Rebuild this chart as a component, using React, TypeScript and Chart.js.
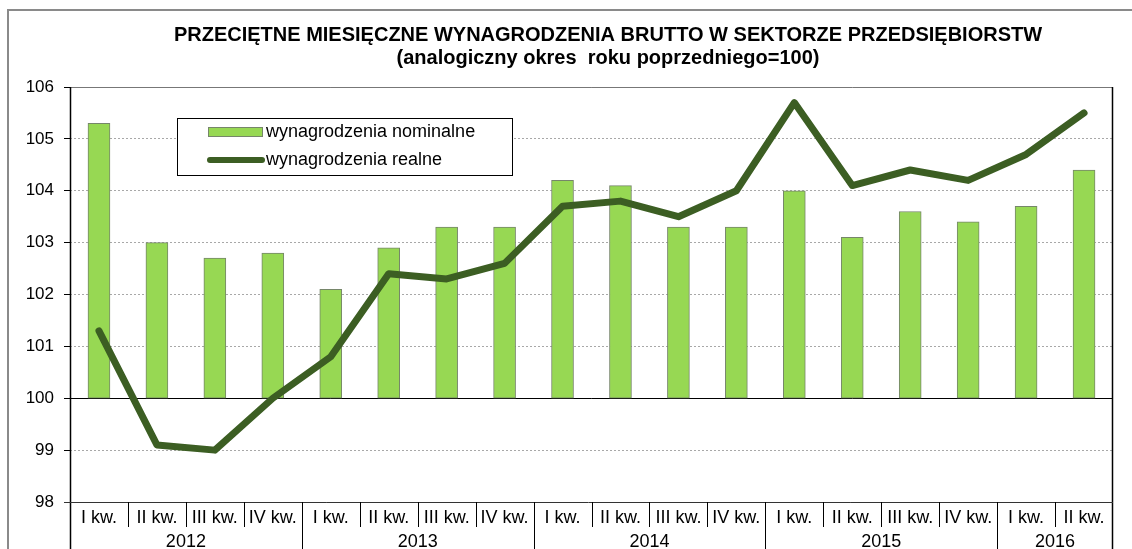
import React, { useEffect, useRef } from "react";
import { Chart, registerables } from "chart.js";

Chart.register(...registerables);

const quarters = ["I kw.", "II kw.", "III kw.", "IV kw.", "I kw.", "II kw.", "III kw.", "IV kw.", "I kw.", "II kw.", "III kw.", "IV kw.", "I kw.", "II kw.", "III kw.", "IV kw.", "I kw.", "II kw."];
const years = ["2012", "2013", "2014", "2015", "2016"];
const quartersPerYear = [4, 4, 4, 4, 2];
const nominal = [105.3, 103.0, 102.7, 102.8, 102.1, 102.9, 103.3, 103.3, 104.2, 104.1, 103.3, 103.3, 104.0, 103.1, 103.6, 103.4, 103.7, 104.4];
const real = [101.3, 99.1, 99.0, 100.0, 100.8, 102.4, 102.3, 102.6, 103.7, 103.8, 103.5, 104.0, 105.7, 104.1, 104.4, 104.2, 104.7, 105.5];
const baseValue = 100;
const titleLines = ["PRZECIĘTNE MIESIĘCZNE WYNAGRODZENIA BRUTTO W SEKTORZE PRZEDSIĘBIORSTW", "(analogiczny okres  roku poprzedniego=100)"];
const seriesNames = ["wynagrodzenia nominalne", "wynagrodzenia realne"];

const FONT = "'Liberation Sans', Arial, sans-serif";
const BAR_FILL = "#97d853";
const BAR_BORDER = "#76866a";
const LINE_COLOR = "#3c5e23";

const decorPlugin = {
  id: "decor",
  beforeDatasetsDraw(chart: any) {
    const { ctx, chartArea, scales } = chart;
    const y = scales.y;
    ctx.save();
    const y100 = Math.round(y.getPixelForValue(baseValue)) + 0.5;
    ctx.strokeStyle = "#000";
    ctx.lineWidth = 1;
    ctx.beginPath();
    ctx.moveTo(chartArea.left, y100);
    ctx.lineTo(chartArea.right, y100);
    ctx.stroke();
    ctx.restore();
  },
  afterDraw(chart: any) {
    const { ctx, chartArea, scales } = chart;
    const x = scales.x;
    const H = chart.height;
    const W = chart.width;
    const L = chartArea.left;
    const R = chartArea.right;
    const T = chartArea.top;
    const B = chartArea.bottom;
    ctx.save();

    // outer frame
    ctx.strokeStyle = "#8a8a8a";
    ctx.lineWidth = 2;
    ctx.beginPath();
    ctx.moveTo(8, H);
    ctx.lineTo(8, 10);
    ctx.lineTo(W, 10);
    ctx.stroke();

    // plot frame
    ctx.lineWidth = 1;
    ctx.strokeStyle = "#777";
    ctx.beginPath();
    ctx.moveTo(L, Math.round(T) + 0.5);
    ctx.lineTo(R, Math.round(T) + 0.5);
    ctx.stroke();
    ctx.strokeStyle = "#000";
    ctx.lineWidth = 1.5;
    ctx.beginPath();
    ctx.moveTo(Math.round(L) + 0.5, T);
    ctx.lineTo(Math.round(L) + 0.5, H);
    ctx.moveTo(Math.round(R) - 0.5, T);
    ctx.lineTo(Math.round(R) - 0.5, H);
    ctx.stroke();
    ctx.lineWidth = 1;
    ctx.strokeStyle = "#333";
    ctx.beginPath();
    ctx.moveTo(L - 6, Math.round(B) + 0.5);
    ctx.lineTo(R, Math.round(B) + 0.5);
    ctx.stroke();

    // category labels and separators
    ctx.fillStyle = "#000";
    ctx.font = `18px ${FONT}`;
    ctx.textAlign = "center";
    ctx.textBaseline = "middle";
    quarters.forEach((q, i) => {
      ctx.fillText(q, x.getPixelForValue(i), B + 16);
    });
    ctx.strokeStyle = "#000";
    ctx.lineWidth = 1;
    let idx = 0;
    const yearStarts: number[] = [];
    quartersPerYear.forEach((n) => {
      yearStarts.push(idx);
      idx += n;
    });
    for (let i = 1; i < quarters.length; i++) {
      const sx = Math.round((x.getPixelForValue(i) + x.getPixelForValue(i - 1)) / 2) + 0.5;
      const isYear = yearStarts.includes(i);
      ctx.beginPath();
      ctx.moveTo(sx, B);
      ctx.lineTo(sx, isYear ? H : B + 25);
      ctx.stroke();
    }
    years.forEach((yr, k) => {
      const s = yearStarts[k];
      const e = s + quartersPerYear[k] - 1;
      const cx = (x.getPixelForValue(s) + x.getPixelForValue(e)) / 2;
      ctx.fillText(yr, cx, B + 40);
    });

    // title
    ctx.font = `bold 20px ${FONT}`;
    ctx.fillText(titleLines[0], 608, 35);
    ctx.fillText(titleLines[1], 608, 58);

    // legend
    ctx.fillStyle = "#fff";
    ctx.fillRect(177, 118, 335, 57);
    ctx.strokeStyle = "#000";
    ctx.lineWidth = 1;
    ctx.strokeRect(177.5, 118.5, 335, 57);
    ctx.fillStyle = BAR_FILL;
    ctx.fillRect(208, 127, 55, 10);
    ctx.strokeStyle = BAR_BORDER;
    ctx.strokeRect(208.5, 127.5, 54, 9);
    ctx.strokeStyle = LINE_COLOR;
    ctx.lineWidth = 6;
    ctx.lineCap = "round";
    ctx.beginPath();
    ctx.moveTo(210, 160);
    ctx.lineTo(262, 160);
    ctx.stroke();
    ctx.fillStyle = "#000";
    ctx.font = `18px ${FONT}`;
    ctx.textAlign = "left";
    ctx.fillText(seriesNames[0], 266, 132);
    ctx.fillText(seriesNames[1], 266, 160);

    ctx.restore();
  },
};

export default function App() {
  const ref = useRef<HTMLCanvasElement | null>(null);
  useEffect(() => {
    document.body.style.margin = "0";
    const canvas = ref.current;
    if (!canvas) return;
    const chart = new Chart(canvas, {
      type: "bar",
      data: {
        labels: quarters,
        datasets: [
          {
            type: "line",
            label: seriesNames[1],
            data: real,
            borderColor: LINE_COLOR,
            backgroundColor: LINE_COLOR,
            borderWidth: 7,
            pointRadius: 0,
            tension: 0,
            borderCapStyle: "round",
            borderJoinStyle: "round",
            order: 0,
          } as any,
          {
            type: "bar",
            label: seriesNames[0],
            data: nominal.map((v) => [baseValue, v]),
            backgroundColor: BAR_FILL,
            borderColor: BAR_BORDER,
            borderWidth: 1,
            borderSkipped: false,
            barThickness: 22,
            order: 1,
          } as any,
        ],
      },
      options: {
        responsive: false,
        devicePixelRatio: 1,
        animation: false,
        layout: { padding: { left: 0, top: 87, right: 19, bottom: 47 } },
        plugins: {
          legend: { display: false },
          title: { display: false },
          tooltip: { enabled: false },
        },
        scales: {
          x: {
            type: "category",
            display: false,
            offset: true,
          },
          y: {
            min: 98,
            max: 106,
            ticks: {
              stepSize: 1,
              color: "#000",
              font: { family: FONT, size: 17 },
              padding: 10,
            },
            grid: {
              color: "#a8a8a8",
              tickColor: "#000",
              tickLength: 6,
              tickBorderDash: [],
              lineWidth: 1,
            },
            border: { display: false, dash: [2, 2] },
            afterFit(scale: any) {
              scale.width = 70;
            },
          } as any,
        },
      },
      plugins: [decorPlugin],
    });
    return () => chart.destroy();
  }, []);
  return (
    <div style={{ width: 1132, height: 549, background: "#fff" }}>
      <canvas ref={ref} width={1132} height={549} style={{ display: "block" }} />
    </div>
  );
}
